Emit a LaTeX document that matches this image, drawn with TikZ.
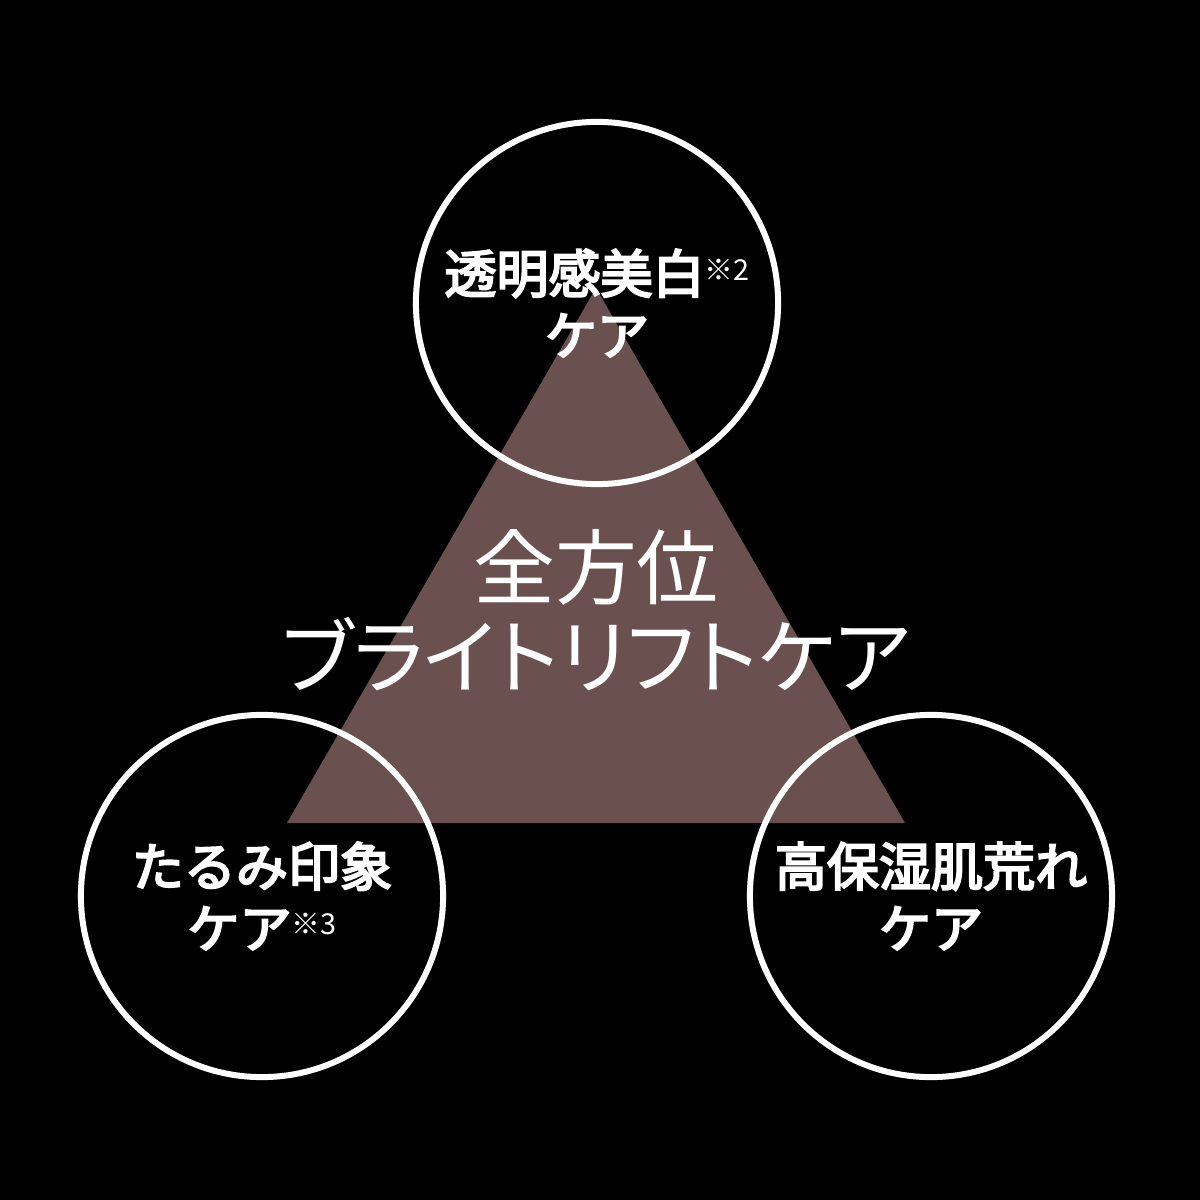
\documentclass[tikz,border=0pt]{standalone}
\usepackage{fontspec}
\setmainfont{Noto Sans CJK JP}
\newfontfamily\corefont[RawFeature=+palt]{Noto Sans CJK JP}
\newfontfamily\ringfont[FakeBold=4]{Noto Sans CJK JP}
\definecolor{cocoa}{RGB}{106,81,80}
\newcommand{\kome}[1]{\raisebox{0.25em}{\rmfamily\fontsize{8.2}{9}\selectfont ※#1}}
\begin{document}
\begin{tikzpicture}[x=0.01cm, y=-0.01cm,
		ring/.style={circle, draw=white, line width=0.06cm, minimum size=3.62cm, inner sep=0pt, text=white, align=center, font=\ringfont\fontsize{14.8}{17.6}\selectfont},
		core/.style={text=white, align=center, font=\corefont\fontsize{23.3}{25.5}\selectfont}]
	\fill[black] (0,0) rectangle (1200,1200);
	\fill[cocoa] (596,288) -- (905,823) -- (287,823) -- cycle;
	
	\node[core] (core) at (596,610) {全方位\\ブライトリフトケア};
	
	\foreach \x/\y/\name/\txt in {597/303/bright/{透明感美白\kome{2}\\ケア}, 262/896/lift/{たるみ印象\\ケア\kome{3}}, 931/896/moist/{高保湿肌荒れ\\ケア}}
	{
		\node[ring] (\name) at (\x,\y) {\txt};
	}
\end{tikzpicture}
\end{document}
